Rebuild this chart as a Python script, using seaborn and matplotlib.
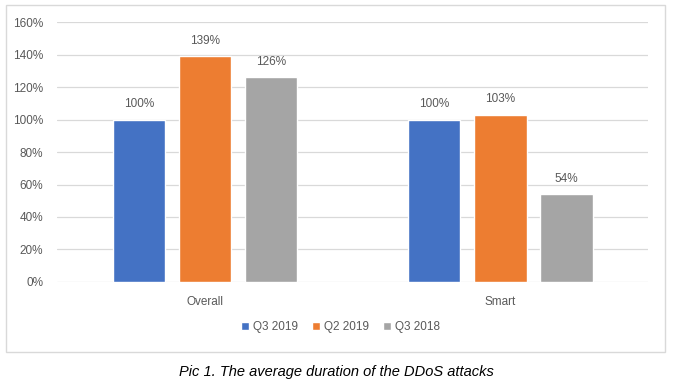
import pandas as pd
import seaborn as sns
import matplotlib.pyplot as plt
from matplotlib.patches import Rectangle
from matplotlib.ticker import PercentFormatter

CATEGORIES = ['Overall', 'Smart']
PERIODS = ['Q3 2019', 'Q2 2019', 'Q3 2018']
Q3_2019 = [100, 100]
Q2_2019 = [139, 103]
Q3_2018 = [126, 54]
COLORS = ['#4472C4', '#ED7D31', '#A5A5A5']
TEXT = '#595959'


def main():
    df = pd.DataFrame({
        'category': CATEGORIES * 3,
        'period': [p for p in PERIODS for _ in CATEGORIES],
        'value': Q3_2019 + Q2_2019 + Q3_2018,
    })

    sns.set_style('white')
    plt.rcParams['font.family'] = ['Liberation Sans', 'DejaVu Sans']
    fig = plt.figure(figsize=(6.86, 3.82), dpi=100)
    ax = fig.add_axes([0.083, 0.262, 0.862, 0.68])

    sns.barplot(data=df, x='category', y='value', hue='period',
                palette=COLORS, width=0.67, gap=0.21, ax=ax,
                saturation=1, legend=True)

    for cont in ax.containers:
        ax.bar_label(cont, labels=[f'{v:.0f}%' for v in cont.datavalues],
                     padding=7, fontsize=8.5, color=TEXT)

    ax.set_ylim(0, 160)
    ax.set_yticks(range(0, 161, 20))
    ax.yaxis.set_major_formatter(PercentFormatter(decimals=0))
    ax.grid(axis='y', color='#d9d9d9', linewidth=0.9)
    ax.set_axisbelow(True)
    for s in ax.spines.values():
        s.set_visible(False)
    ax.tick_params(axis='both', length=0, labelsize=8.5, labelcolor=TEXT)
    ax.tick_params(axis='x', pad=10)
    ax.tick_params(axis='y', pad=10)
    ax.set_xlabel('')
    ax.set_ylabel('')

    handles, labels = ax.get_legend_handles_labels()
    ax.get_legend().remove()
    fig.legend(handles, labels, loc='center', bbox_to_anchor=(0.496, 0.144),
               ncol=3, frameon=False, fontsize=8.5, labelcolor=TEXT,
               handlelength=0.7, handleheight=0.7, handletextpad=0.3,
               columnspacing=1.2)

    fig.patches.append(Rectangle((0.0087, 0.0785), 0.961, 0.908,
                                 transform=fig.transFigure, fill=False,
                                 edgecolor='#d9d9d9', linewidth=1))

    fig.text(0.491, 0.026, 'Pic 1. The average duration of the DDoS attacks',
             ha='center', va='center', style='italic', fontsize=10.5,
             color='black')

    fig.savefig('out.png', dpi=100)


if __name__ == '__main__':
    main()
